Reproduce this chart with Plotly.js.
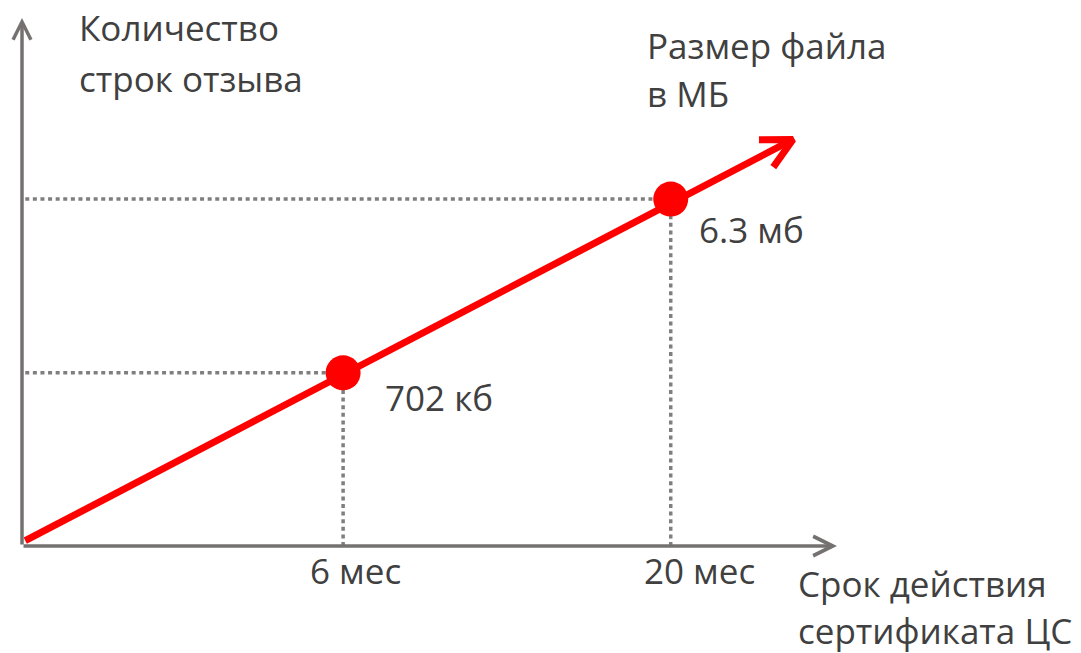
<!DOCTYPE html>
<html>
<head>
<meta charset="utf-8">
<script src="https://cdn.plot.ly/plotly-3.0.1.min.js"></script>
<style>html,body{margin:0;padding:0;background:#fff;}#chart{width:1081px;height:653px;}</style>
</head>
<body>
<div id="chart"></div>
<script>
// Schematic positions (chart is a conceptual diagram, not to scale)
const periodLabels = ['6 мес', '20 мес'];
const sizeLabels = ['702 кб', '6.3 мб'];
const periodPos = [3.94, 7.96];
const sizePos = [3.28, 6.57];
const trendX = [0.04, 9.46];
const trendY = [0.10, 7.70];
const yAxisTitle = ['Количество', 'строк отзыва'];
const lineTitle = ['Размер файла', 'в МБ'];
const xAxisTitle = ['Срок действия', 'сертификата ЦС'];

const RED = '#ff0000';
const AXIS = '#767171';
const DOT = '#7f7f7f';
const TXT = '#404040';
const FONT = 'Open Sans, sans-serif';
const FS = 35;

const L = 22, R = 244, T = 18, B = 107, W = 1081, H = 653;
const pw = W - L - R, ph = H - T - B;
const px = v => (v - L) / pw;        // pixel -> paper x
const py = v => (H - B - v) / ph;    // pixel -> paper y
const sx = pw / 10, sy = ph / 10;    // pixels per axis unit

const traces = [];
// dotted guides
for (let i = 0; i < periodPos.length; i++) {
  traces.push({x: [0.04, periodPos[i]], y: [sizePos[i], sizePos[i]], mode: 'lines',
    line: {color: DOT, width: 3.5, dash: '4px,3.6px'}, hoverinfo: 'skip', showlegend: false});
  traces.push({x: [periodPos[i], periodPos[i]], y: [0, sizePos[i]], mode: 'lines',
    line: {color: DOT, width: 3.5, dash: '4px,3.6px'}, hoverinfo: 'skip', showlegend: false});
}
// trend line
traces.push({x: trendX, y: trendY, mode: 'lines', line: {color: RED, width: 7},
  hoverinfo: 'skip', showlegend: false});
// open chevron head at the end of the trend line (derived from its direction)
(function () {
  const dx = (trendX[1] - trendX[0]) * sx, dy = (trendY[1] - trendY[0]) * sy;
  const len = Math.hypot(dx, dy), ux = -dx / len, uy = -dy / len;
  const armLen = 34, ang = 27 * Math.PI / 180;
  const arm = s => {
    const c = Math.cos(s * ang), n = Math.sin(s * ang);
    const vx = ux * c - uy * n, vy = ux * n + uy * c;
    return [trendX[1] + vx * armLen / sx, trendY[1] + vy * armLen / sy];
  };
  const a1 = arm(1), a2 = arm(-1);
  traces.push({x: [a1[0], trendX[1], a2[0]], y: [a1[1], trendY[1], a2[1]], mode: 'lines',
    line: {color: RED, width: 7}, hoverinfo: 'skip', showlegend: false});
})();
// points
traces.push({x: periodPos, y: sizePos, mode: 'markers', marker: {color: RED, size: 35},
  hoverinfo: 'skip', showlegend: false});

const ann = [];
// axis arrows
ann.push({xref: 'x', yref: 'y', axref: 'x', ayref: 'y', x: 10, y: 0, ax: 0, ay: 0, text: '',
  showarrow: true, arrowhead: 5, arrowsize: 1.1, arrowwidth: 3.5, arrowcolor: AXIS, standoff: 0});
ann.push({xref: 'x', yref: 'y', axref: 'x', ayref: 'y', x: 0, y: 10, ax: 0, ay: 0, text: '',
  showarrow: true, arrowhead: 5, arrowsize: 1.0, arrowwidth: 3.5, arrowcolor: AXIS, standoff: 0});

const tf = {family: FONT, size: FS, color: TXT};
function txt(text, xp, yp, anchor) {
  ann.push({xref: 'paper', yref: 'paper', x: px(xp), y: py(yp), text: text, showarrow: false,
    xanchor: anchor || 'left', yanchor: 'middle', font: tf});
}
txt(yAxisTitle[0], 77, 27);
txt(yAxisTitle[1], 77, 78);
txt(lineTitle[0], 645, 45);
txt(lineTitle[1], 645, 94);
txt(xAxisTitle[0], 796, 583);
txt(xAxisTitle[1], 796, 630);

// point value labels and tick labels (data anchored)
const valShiftX = [40, 26], valShiftY = [-25, -30];
const tickShiftX = [12, 29];
for (let i = 0; i < periodPos.length; i++) {
  ann.push({xref: 'x', yref: 'y', x: periodPos[i], y: sizePos[i], text: sizeLabels[i], showarrow: false,
    xanchor: 'left', yanchor: 'middle', xshift: valShiftX[i], yshift: valShiftY[i], font: tf});
  ann.push({xref: 'x', yref: 'y', x: periodPos[i], y: 0, text: periodLabels[i], showarrow: false,
    xanchor: 'center', yanchor: 'middle', xshift: tickShiftX[i], yshift: -24, font: tf});
}

const layout = {
  width: W, height: H, margin: {l: L, r: R, t: T, b: B, pad: 0},
  paper_bgcolor: '#fff', plot_bgcolor: '#fff',
  xaxis: {range: [0, 10], visible: false, fixedrange: true},
  yaxis: {range: [0, 10], visible: false, fixedrange: true},
  annotations: ann, showlegend: false
};
Plotly.newPlot('chart', traces, layout, {displayModeBar: false, staticPlot: true});
</script>
</body>
</html>
